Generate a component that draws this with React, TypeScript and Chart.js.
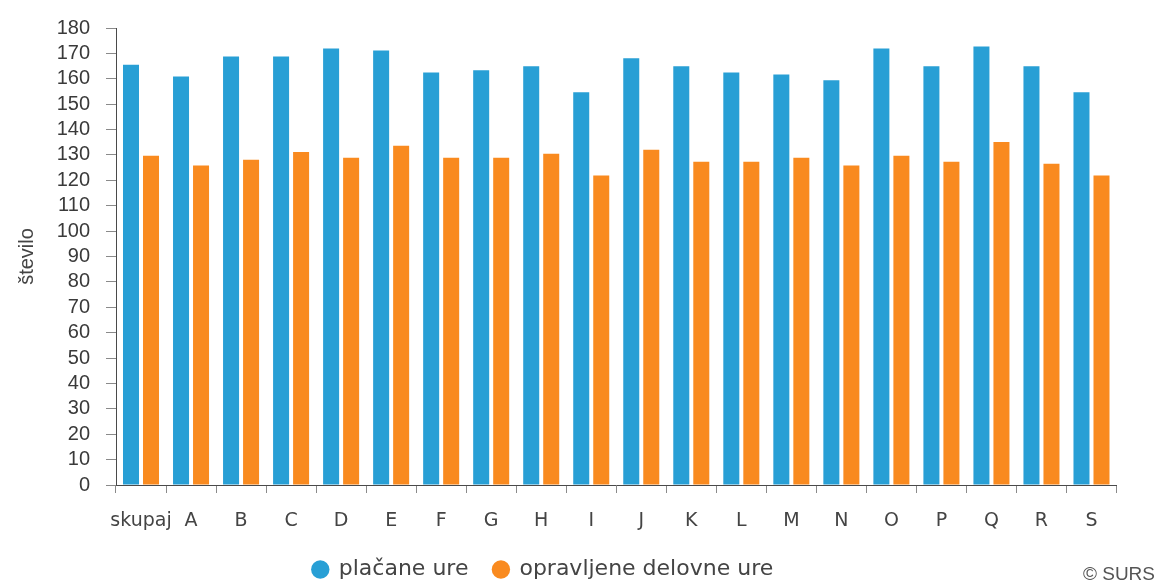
import React, { useEffect, useRef } from 'react';
import { Chart, registerables } from 'chart.js';

Chart.register(...registerables);

const categories = ['skupaj', 'A', 'B', 'C', 'D', 'E', 'F', 'G', 'H', 'I', 'J', 'K', 'L', 'M', 'N', 'O', 'P', 'Q', 'R', 'S'];
const paidHours = [165.5, 160.9, 168.8, 168.8, 171.9, 171.1, 162.5, 163.4, 164.9, 154.7, 168.1, 164.9, 162.5, 161.7, 159.4, 171.9, 164.9, 172.7, 164.9, 154.7];
const workedHours = [129.7, 125.8, 128.1, 131.2, 128.9, 133.6, 128.9, 128.9, 130.5, 121.9, 132.0, 127.3, 127.3, 128.9, 125.8, 129.7, 127.3, 135.1, 126.5, 121.9];
const seriesNames = ['plačane ure', 'opravljene delovne ure'];
const seriesColors = ['#289fd5', '#f98a1f'];
const yMin = 0;
const yMax = 180;
const yStep = 10;
const yAxisTitle = 'število';
const creditText = '© SURS';

const W = 1161;
const H = 582;
const PLOT_LEFT = 116;
const PLOT_RIGHT = 1116.5;
const PLOT_TOP = 23;
const PLOT_BOTTOM = 485;
const LEGEND_FONT = 22;
const LEGEND_PAD = 25;
const LEGEND_CY = 569.5;
const LEGEND_CENTER_X = 543;

export default function App() {
  const ref = useRef<HTMLCanvasElement | null>(null);

  useEffect(() => {
    if (!ref.current) return;

    const layoutFix = {
      id: 'layoutFix',
      afterLayout(chart: any) {
        const lg = chart.legend;
        if (lg) {
          const h = lg.height;
          lg.left = 0;
          lg.right = LEGEND_CENTER_X * 2;
          lg.width = LEGEND_CENTER_X * 2;
          lg.top = LEGEND_CY - LEGEND_PAD - LEGEND_FONT / 2;
          lg.bottom = lg.top + h;
        }
        const xs = chart.scales.x;
        if (xs) {
          xs.bottom = H;
          xs.height = H - xs.top;
        }
      },
    };

    const credit = {
      id: 'credit',
      afterDraw(chart: any) {
        const ctx = chart.ctx;
        ctx.save();
        ctx.font = '19px "Liberation Sans", Arial, sans-serif';
        ctx.fillStyle = '#555555';
        ctx.textAlign = 'right';
        ctx.textBaseline = 'alphabetic';
        ctx.fillText(creditText, 1155, 580);
        ctx.restore();
      },
    };

    const chart = new Chart(ref.current, {
      type: 'bar',
      data: {
        labels: categories,
        datasets: [
          {
            label: seriesNames[0],
            data: paidHours,
            backgroundColor: seriesColors[0],
            borderWidth: 0,
            categoryPercentage: 0.8,
            barPercentage: 0.8,
          },
          {
            label: seriesNames[1],
            data: workedHours,
            backgroundColor: seriesColors[1],
            borderWidth: 0,
            categoryPercentage: 0.8,
            barPercentage: 0.8,
          },
        ],
      },
      options: {
        responsive: false,
        animation: false,
        devicePixelRatio: 1,
        layout: {
          padding: { top: PLOT_TOP, left: 0, right: W - PLOT_RIGHT, bottom: 0 },
        },
        plugins: {
          tooltip: { enabled: false },
          legend: {
            position: 'bottom',
            align: 'center',
            labels: {
              usePointStyle: true,
              pointStyle: 'circle',
              boxWidth: 15,
              boxHeight: 13,
              padding: LEGEND_PAD,
              color: '#444444',
              font: { family: '"DejaVu Sans", Verdana, sans-serif', size: LEGEND_FONT },
            },
          },
        },
        scales: {
          x: {
            offset: true,
            grid: {
              offset: true,
              drawOnChartArea: false,
              drawTicks: true,
              tickLength: 8,
              tickColor: '#8a8a8a',
            },
            border: { display: true, color: '#4a4a4a', width: 1 },
            ticks: {
              color: '#444444',
              padding: 17,
              maxRotation: 0,
              autoSkip: false,
              font: { family: '"DejaVu Sans", Verdana, sans-serif', size: 19 },
            },
            afterFit(scale: any) {
              const lg = scale.chart.legend;
              const lh = lg && lg.height ? lg.height : 57;
              scale.height = H - PLOT_BOTTOM - lh;
            },
          },
          y: {
            min: yMin,
            max: yMax,
            grid: {
              drawOnChartArea: false,
              drawTicks: true,
              tickLength: 10,
              tickColor: '#8a8a8a',
            },
            border: { display: true, color: '#4a4a4a', width: 1 },
            ticks: {
              stepSize: yStep,
              autoSkip: false,
              color: '#3a3a3a',
              padding: 16,
              font: { family: '"Liberation Sans", Arial, sans-serif', size: 20 },
            },
            title: {
              display: true,
              text: yAxisTitle,
              color: '#444444',
              padding: { top: 15, bottom: 0 },
              font: { family: '"Liberation Sans", Arial, sans-serif', size: 20 },
            },
            afterFit(scale: any) {
              scale.width = PLOT_LEFT;
            },
          },
        },
      },
      plugins: [layoutFix, credit],
    } as any);

    return () => {
      chart.destroy();
    };
  }, []);

  return (
    <div style={{ position: 'absolute', left: 0, top: 0, width: W, height: H, background: '#ffffff' }}>
      <canvas ref={ref} width={W} height={H} style={{ display: 'block' }} />
    </div>
  );
}
